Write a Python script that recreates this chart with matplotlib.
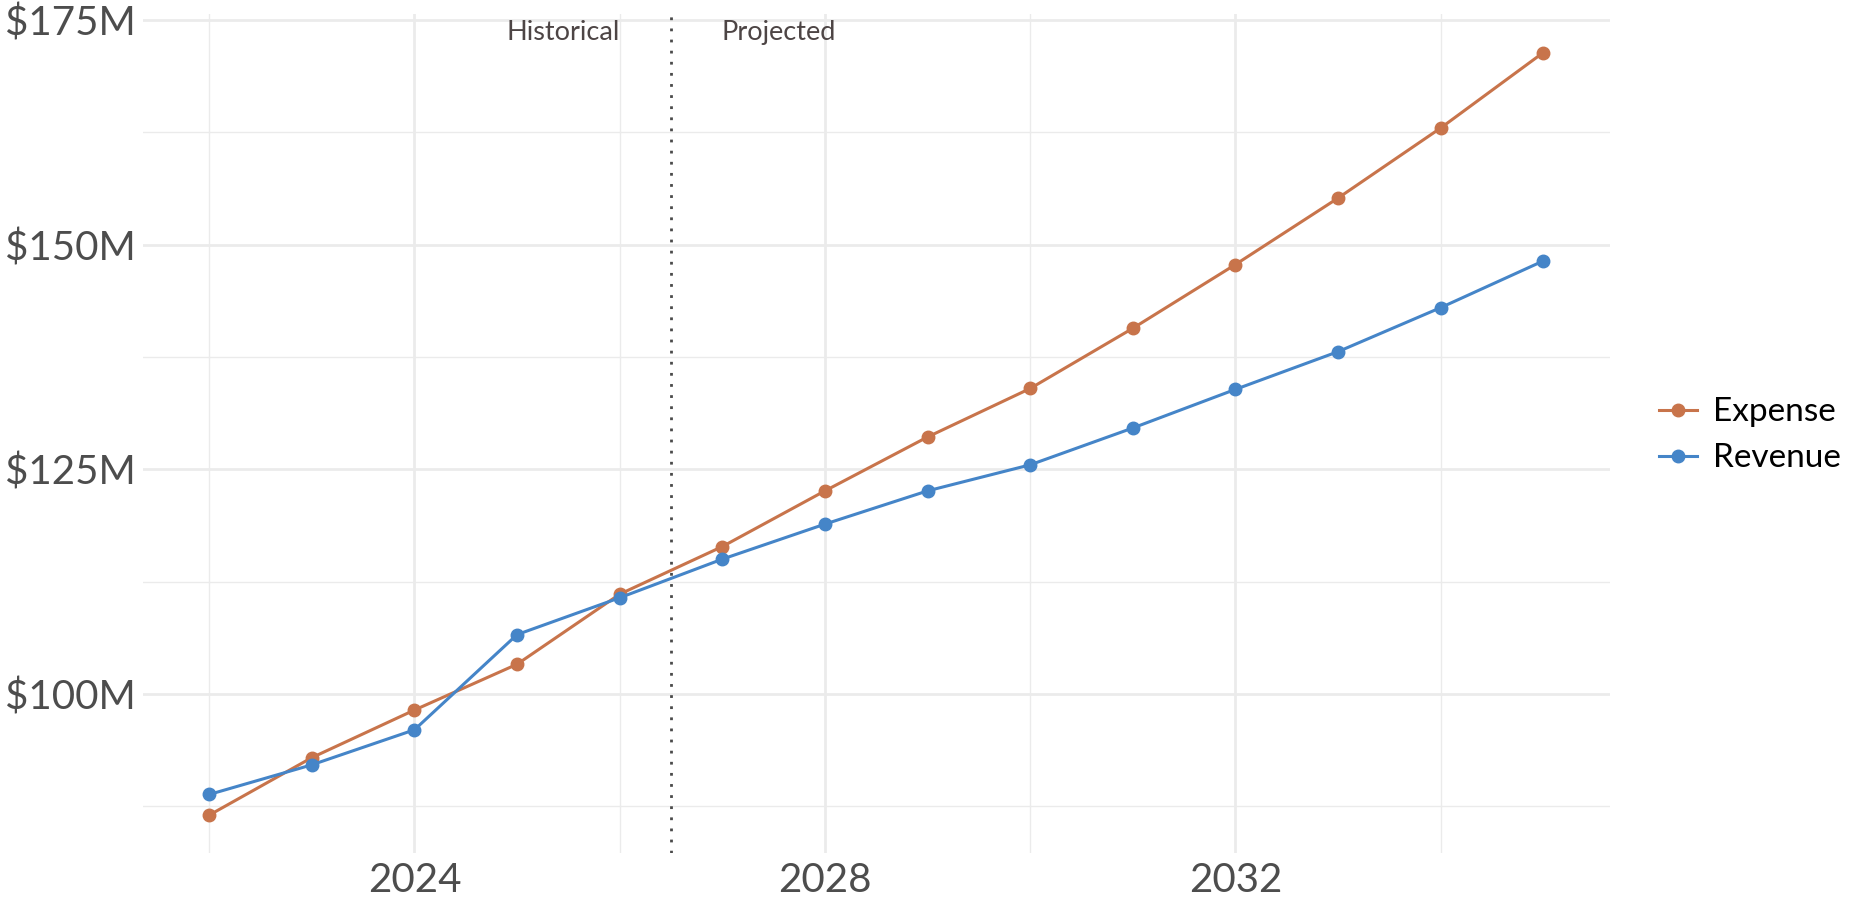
import matplotlib.pyplot as plt
from matplotlib.ticker import FuncFormatter, MultipleLocator

plt.rcParams['font.family'] = ['Lato', 'DejaVu Sans']

years = list(range(2022, 2036))
expense = [86.5, 92.9, 98.2, 103.3, 111.1, 116.4, 122.6, 128.6, 134.0, 140.7, 147.8, 155.2, 163.0, 171.4]
revenue = [88.8, 92.1, 96.0, 106.6, 110.7, 115.0, 118.9, 122.6, 125.5, 129.6, 133.9, 138.1, 143.0, 148.2]
split_year = 2026.5
x_ticks = [2024, 2028, 2032]
y_ticks = [100, 125, 150, 175]

EXP_COLOR = '#C8744B'
REV_COLOR = '#4585C8'
GRID = '#EBEBEB'

fig = plt.figure(figsize=(18.63, 9.01), dpi=100)
ax = fig.add_axes([0.0765, 0.053, 0.7877, 0.931])

l_exp, = ax.plot(years, expense, color=EXP_COLOR, lw=2.2, marker='o', ms=9, label='Expense', zorder=3)
l_rev, = ax.plot(years, revenue, color=REV_COLOR, lw=2.2, marker='o', ms=9, label='Revenue', zorder=3)

ax.axvline(split_year, color='#4A4A4A', lw=2.0, ls=(0, (1, 3)), zorder=2)
ax.text(split_year - 1.05, 173.6, 'Historical', ha='center', va='center', fontsize=19.5, color='#4D4545')
ax.text(split_year + 1.05, 173.6, 'Projected', ha='center', va='center', fontsize=19.5, color='#4D4545')

pad_x = (years[-1] - years[0]) * 0.05
lo, hi = min(expense + revenue), max(expense + revenue)
pad_y = (hi - lo) * 0.05
ax.set_xlim(years[0] - pad_x, years[-1] + pad_x)
ax.set_ylim(lo - pad_y, hi + pad_y)

ax.set_xticks(x_ticks)
ax.set_yticks(y_ticks)
ax.xaxis.set_minor_locator(MultipleLocator(2))
ax.yaxis.set_minor_locator(MultipleLocator(12.5))
ax.yaxis.set_major_formatter(FuncFormatter(lambda v, p: f'${v:.0f}M'))

ax.grid(which='major', color=GRID, lw=2.0, zorder=0)
ax.grid(which='minor', color=GRID, lw=1.0, zorder=0)
ax.set_axisbelow(True)
for s in ax.spines.values():
    s.set_visible(False)
ax.tick_params(which='both', length=0)
ax.tick_params(axis='both', labelsize=29, labelcolor='#4D4D4D')
ax.tick_params(axis='x', pad=6)
ax.tick_params(axis='y', pad=5)

# legend sits in the right margin, outside the panel
leg = fig.legend(handles=[l_exp, l_rev], loc='center left', bbox_to_anchor=(0.8905, 0.517),
                 bbox_transform=fig.transFigure, frameon=False, borderpad=0, borderaxespad=0,
                 fontsize=24, handlelength=1.15, handletextpad=0.48, labelspacing=0.48)
for t in leg.get_texts():
    t.set_color('black')

fig.savefig('out.png', dpi=100, facecolor='white')
